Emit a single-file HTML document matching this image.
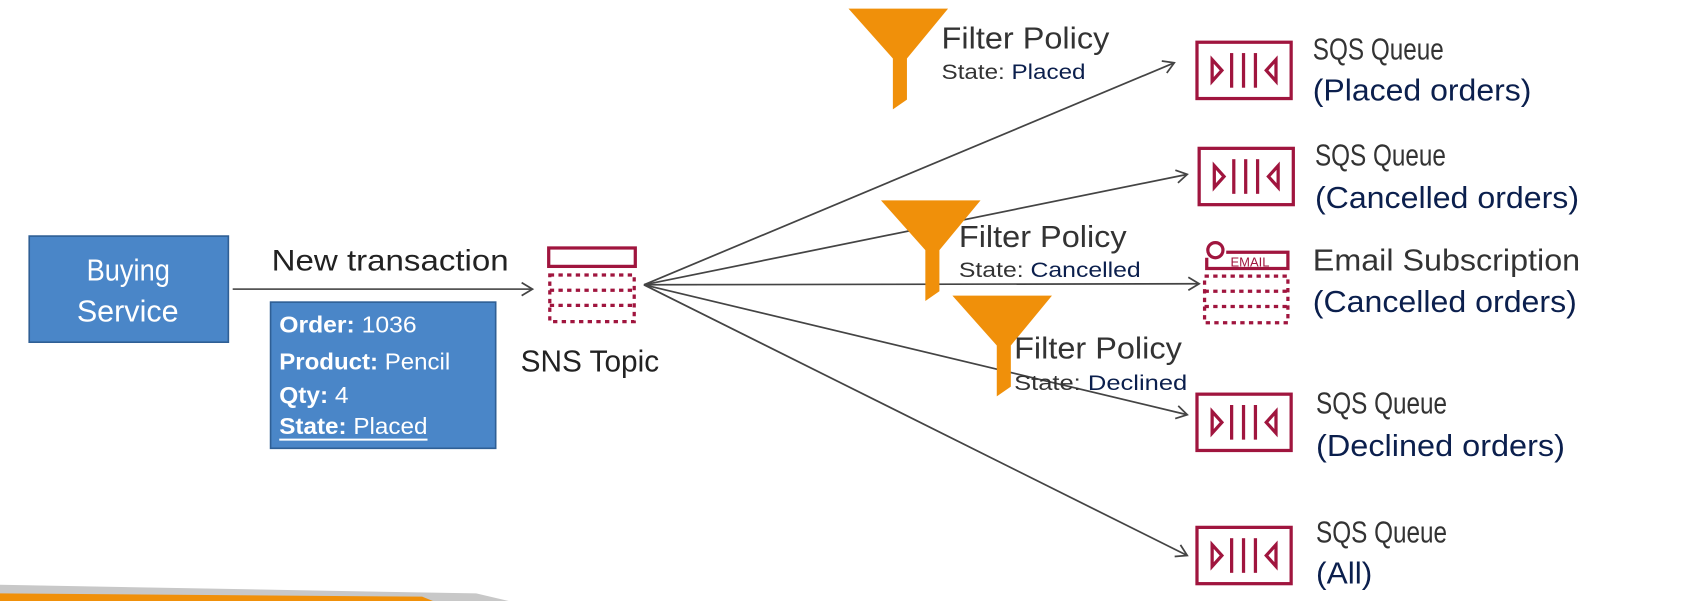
<!DOCTYPE html>
<html><head><meta charset="utf-8"><style>
html,body{margin:0;padding:0;background:#fff;overflow:hidden}
svg{display:block}
text{font-family:"Liberation Sans",sans-serif}
</style></head><body>
<svg width="1697" height="601" viewBox="0 0 1568 555" preserveAspectRatio="none" xmlns="http://www.w3.org/2000/svg">
<defs>
<marker id="ah" markerWidth="14" markerHeight="14" refX="11" refY="7" orient="auto" markerUnits="userSpaceOnUse">
<path d="M1,1 L11,7 L1,13" fill="none" stroke="#444" stroke-width="1.6"/>
</marker>
</defs>
<polygon points="0,540 440,548 470,555 0,555" fill="#c8c8c8"/>
<polygon points="0,548 390,551 400,555 0,555" fill="#f0900a"/>

<rect x="27" y="218" width="184" height="98" fill="#4a86c8" stroke="#2f5f95" stroke-width="1.5"/>
<text x="80" y="259" font-size="28" fill="#fff" textLength="77" lengthAdjust="spacingAndGlyphs">Buying</text>
<text x="71" y="297" font-size="28" fill="#fff" textLength="94" lengthAdjust="spacingAndGlyphs">Service</text>

<line x1="215" y1="267" x2="492" y2="267" stroke="#555" stroke-width="1.6" marker-end="url(#ah)"/>
<text x="251" y="250" font-size="27" fill="#222" textLength="219" lengthAdjust="spacingAndGlyphs">New transaction</text>

<rect x="250" y="279" width="208" height="135" fill="#4a86c8" stroke="#2f5f95" stroke-width="1.5"/>
<g font-size="21" fill="#fff">
<text x="258" y="307" textLength="127" lengthAdjust="spacingAndGlyphs"><tspan font-weight="bold">Order:</tspan> 1036</text>
<text x="258" y="341" textLength="158" lengthAdjust="spacingAndGlyphs"><tspan font-weight="bold">Product:</tspan> Pencil</text>
<text x="258" y="372" textLength="64" lengthAdjust="spacingAndGlyphs"><tspan font-weight="bold">Qty:</tspan> 4</text>
<text x="258" y="401" textLength="137" lengthAdjust="spacingAndGlyphs"><tspan font-weight="bold">State:</tspan> Placed</text>
</g>
<line x1="258" y1="406" x2="395" y2="406" stroke="#fff" stroke-width="1.8"/>

<rect x="507" y="229" width="80" height="17" fill="none" stroke="#a0153e" stroke-width="3"/>
<g fill="none" stroke="#a0153e" stroke-width="3" stroke-dasharray="4 4">
<rect x="508" y="254" width="78" height="43"/>
<line x1="508" y1="268" x2="586" y2="268"/>
<line x1="508" y1="282" x2="586" y2="282"/>
</g>
<text x="481" y="343" font-size="28" fill="#222" textLength="128" lengthAdjust="spacingAndGlyphs">SNS Topic</text>

<g stroke="#444" stroke-width="1.6" marker-end="url(#ah)">
<line x1="595" y1="263" x2="1085" y2="58"/>
<line x1="595" y1="263" x2="1097" y2="161"/>
<line x1="595" y1="263" x2="1108" y2="262"/>
<line x1="595" y1="263" x2="1097" y2="383"/>
<line x1="595" y1="263" x2="1097" y2="513"/>
</g>

<g fill="#f0900a">
<path d="M784,8 L876,8 L838,54 L838,92 L825,101 L825,54 Z"/>
<path d="M814,185 L906,185 L868,231 L868,269 L855,278 L855,231 Z"/>
<path d="M880,273 L972,273 L934,319 L934,357 L921,366 L921,319 Z"/>
</g>
<g fill="#333">
<text x="870" y="45" font-size="28" textLength="155" lengthAdjust="spacingAndGlyphs">Filter Policy</text>
<text x="870" y="73" font-size="20" textLength="133" lengthAdjust="spacingAndGlyphs">State: <tspan fill="#0b1f4d">Placed</tspan></text>
<text x="886" y="228" font-size="28" textLength="155" lengthAdjust="spacingAndGlyphs">Filter Policy</text>
<text x="886" y="256" font-size="20" textLength="168" lengthAdjust="spacingAndGlyphs">State: <tspan fill="#0b1f4d">Cancelled</tspan></text>
<text x="937" y="331" font-size="28" textLength="155" lengthAdjust="spacingAndGlyphs">Filter Policy</text>
<text x="937" y="360" font-size="20" textLength="160" lengthAdjust="spacingAndGlyphs">State: <tspan fill="#0b1f4d">Declined</tspan></text>
</g>

<g id="sqs" fill="none" stroke="#a0153e" stroke-width="3">
<rect x="1106" y="39" width="87" height="52"/>
<path d="M1120,55 L1129,65 L1120,75 Z"/>
<line x1="1138" y1="49" x2="1138" y2="81"/><line x1="1149" y1="49" x2="1149" y2="81"/><line x1="1160" y1="49" x2="1160" y2="81"/>
<path d="M1179,55 L1170,65 L1179,75 Z"/>
</g>
<use href="#sqs" transform="translate(2,98)"/>
<use href="#sqs" transform="translate(0,325)"/>
<use href="#sqs" transform="translate(0,448)"/>

<g fill="none" stroke="#a0153e" stroke-width="3">
<circle cx="1123" cy="231" r="7"/>
<path d="M1115,238 L1115,248 L1190,248 L1190,233 L1133,233"/>
<g stroke-dasharray="4 4">
<rect x="1113" y="255" width="77" height="43"/>
<line x1="1113" y1="269" x2="1190" y2="269"/>
<line x1="1113" y1="283" x2="1190" y2="283"/>
</g>
</g>
<text x="1137" y="246" font-size="12" fill="#a0153e">EMAIL</text>

<g font-size="28">
<text x="1213" y="55" fill="#333" textLength="121" lengthAdjust="spacingAndGlyphs">SQS Queue</text>
<text x="1213" y="93" fill="#0b1f4d" textLength="202" lengthAdjust="spacingAndGlyphs">(Placed orders)</text>
<text x="1215" y="153" fill="#333" textLength="121" lengthAdjust="spacingAndGlyphs">SQS Queue</text>
<text x="1215" y="192" fill="#0b1f4d" textLength="244" lengthAdjust="spacingAndGlyphs">(Cancelled orders)</text>
<text x="1213" y="250" fill="#333" textLength="247" lengthAdjust="spacingAndGlyphs">Email Subscription</text>
<text x="1213" y="288" fill="#0b1f4d" textLength="244" lengthAdjust="spacingAndGlyphs">(Cancelled orders)</text>
<text x="1216" y="382" fill="#333" textLength="121" lengthAdjust="spacingAndGlyphs">SQS Queue</text>
<text x="1216" y="421" fill="#0b1f4d" textLength="230" lengthAdjust="spacingAndGlyphs">(Declined orders)</text>
<text x="1216" y="501" fill="#333" textLength="121" lengthAdjust="spacingAndGlyphs">SQS Queue</text>
<text x="1216" y="539" fill="#0b1f4d" textLength="52" lengthAdjust="spacingAndGlyphs">(All)</text>
</g>
</svg>
</body></html>
